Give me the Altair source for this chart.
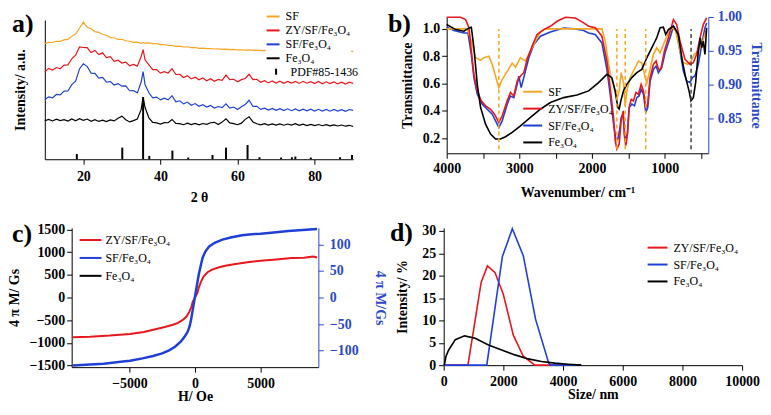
import altair as alt
import pandas as pd

FONT = "Liberation Serif"
ORANGE = "#f5a623"
RED = "#e8161d"
BLUE = "#1f3fd6"
BLACK = "#000000"
AXBLUE = "#2a48c8"

SER4 = ["SF", "ZY/SF/Fe₃O₄", "SF/Fe₃O₄", "Fe₃O₄"]
COL4 = [ORANGE, RED, BLUE, BLACK]
SER3 = ["ZY/SF/Fe₃O₄", "SF/Fe₃O₄", "Fe₃O₄"]
COL3 = [RED, BLUE, BLACK]

# ---------------- panel a : XRD ----------------
TWO_THETA = list(range(10, 36)) + [35.5] + list(range(36, 91))
XRD_SF = [116.5, 117.8, 117.6, 118.9, 118.7, 120.2, 120.8, 123.8, 126.2, 132.0,
          138.2, 133.0, 131.4, 128.6, 127.9, 125.7, 124.9, 122.6, 122.4, 120.7,
          120.9, 119.4, 118.9, 117.7, 117.9, 116.8,
          117.6,
          116.9, 117.3, 116.5, 116.6, 115.5, 115.6, 114.6, 114.8, 113.8, 113.9,
          113.1, 113.3, 112.5, 112.6, 111.8, 112.0, 111.4, 111.6, 111.1, 111.2,
          110.7, 110.9, 110.4, 110.6, 110.2, 110.3, 110.0, 110.1, 109.7, 109.9,
          109.5, 109.7, 109.3, 109.5, 109.2, 109.4, 109.1, 109.3, 109.0, 109.2,
          108.9, 109.1, 108.8, 109.0, 108.8, 108.9, 108.7, 108.9, 108.6, 108.8,
          108.6, 108.8, 108.5, 108.7, 108.7]
XRD_ZY = [88.0, 91.5, 89.8, 92.4, 91.2, 94.8, 95.1, 101.2, 104.8, 113.2,
          112.6, 112.4, 107.5, 109.6, 105.4, 107.2, 102.5, 103.4, 98.6, 99.8,
          96.9, 97.8, 94.2, 95.6, 93.8, 103.5,
          110.5,
          100.2, 95.1, 90.2, 90.4, 86.8, 88.3, 86.9, 91.2, 85.4, 85.6,
          82.3, 84.1, 81.0, 82.6, 80.0, 81.8, 79.1, 81.2, 78.6, 80.4,
          79.6, 84.8, 80.2, 80.6, 78.1, 80.2, 81.4, 85.6, 80.3, 80.5,
          77.6, 79.2, 76.9, 78.8, 76.8, 78.6, 76.5, 78.4, 76.7, 78.3,
          76.4, 78.5, 76.6, 78.2, 76.3, 78.4, 76.1, 78.0, 76.2, 77.8,
          75.9, 77.7, 75.8, 77.6, 76.5]
XRD_SFF = [60.2, 62.9, 61.8, 65.3, 64.9, 68.6, 68.8, 75.2, 78.6, 91.0,
           96.2, 93.4, 86.8, 86.5, 81.7, 82.4, 77.8, 78.3, 74.8, 76.2,
           73.6, 73.9, 69.0, 69.2, 66.9, 77.8,
           88.4,
           75.2, 67.0, 61.9, 62.6, 59.8, 61.6, 59.9, 64.1, 57.8, 58.9,
           55.8, 57.6, 54.4, 56.1, 53.4, 55.0, 52.6, 54.2, 51.6, 53.1,
           52.0, 55.8, 51.6, 52.6, 50.1, 52.8, 55.2, 59.4, 53.2, 53.4,
           50.2, 51.5, 49.6, 51.2, 49.3, 50.9, 49.0, 50.8, 48.9, 50.6,
           48.7, 50.5, 48.8, 50.4, 48.6, 50.3, 48.5, 50.2, 48.4, 50.1,
           48.5, 50.0, 48.3, 50.1, 49.2]
XRD_FE = [38.8, 40.2, 38.6, 40.4, 38.9, 39.8, 38.4, 40.6, 38.7, 40.8,
          39.2, 40.5, 38.3, 39.9, 38.1, 39.4, 37.9, 39.6, 38.6, 41.2,
          43.4, 39.8, 37.6, 38.9, 40.5, 50.2,
          62.7,
          52.4, 41.6, 37.2, 36.6, 35.4, 36.9, 36.8, 40.1, 36.2, 35.9,
          34.8, 36.3, 34.9, 36.1, 34.7, 36.0, 35.1, 36.8, 37.2, 35.0,
          37.4, 40.8, 36.6, 35.9, 34.8, 36.4, 40.2, 42.8, 37.6, 35.8,
          34.6, 35.9, 34.5, 35.7, 34.4, 35.6, 34.3, 35.5, 34.4, 35.8,
          34.2, 35.4, 34.0, 35.2, 33.9, 35.0, 33.8, 34.9, 33.6, 34.7,
          33.5, 34.5, 33.3, 34.2, 33.0]
PDF_POS = [18.3, 30.1, 35.5, 37.1, 43.1, 47.2, 53.5, 57.0, 62.6, 65.7, 71.3, 74.1, 75.0, 79.0, 86.6, 89.7]
PDF_INT = [5.3, 11.7, 62.7, 3.3, 8.7, 1.7, 4.3, 11.7, 14.3, 2.0, 1.7, 2.0, 2.7, 1.7, 2.0, 4.3]
PDF_NAME = "PDF#85-1436"

# ---------------- panel b : FTIR ----------------
WN_SF = [4000, 3716, 3661, 3602, 3533, 3488, 3419, 3373, 3282, 3236, 3167, 3099, 3053, 2985, 2916, 2847, 2778,
         2710, 2641, 2047, 1864, 1818, 1750, 1704, 1658, 1626, 1599, 1567, 1544, 1521, 1475, 1407, 1361, 1315,
         1269, 1246, 1201, 1155, 1109, 1063, 1018, 949, 894, 848, 789, 743, 684, 638, 592, 537, 491, 446, 423]
T_SF = [1.0, 1.0, 0.91, 0.79, 0.77, 0.79, 0.80, 0.74, 0.57, 0.63, 0.69, 0.75, 0.72, 0.79, 0.765, 0.84, 0.91,
        0.98, 1.0, 1.0, 1.0, 0.91, 0.668, 0.583, 0.486, 0.547, 0.68, 0.607, 0.438, 0.547, 0.644, 0.716, 0.765, 0.753,
        0.644, 0.607, 0.704, 0.814, 0.862, 0.826, 0.886, 0.971, 1.008, 0.983, 0.838, 0.753, 0.741, 0.765, 0.814,
        0.838, 0.886, 0.959, 0.995]
WN_ZY = [4000, 3808, 3739, 3693, 3661, 3625, 3579, 3524, 3465, 3396, 3341, 3282, 3236, 3167, 3122, 3076, 3030,
         2984, 2939, 2893, 2824, 2756, 2664, 2573, 2481, 2367, 2229, 2115, 2047, 1956, 1864, 1795, 1750, 1704,
         1681, 1658, 1626, 1599, 1571, 1553, 1535, 1512, 1489, 1461, 1429, 1397, 1361, 1324, 1292, 1260, 1233,
         1201, 1155, 1118, 1086, 1054, 1004, 949, 880, 835, 789, 720, 652, 606, 560, 514, 469, 423]
T_ZY = [1.085, 1.085, 1.068, 1.007, 0.838, 0.668, 0.547, 0.474, 0.438, 0.413, 0.377, 0.316, 0.365, 0.474, 0.535,
        0.510, 0.619, 0.656, 0.68, 0.777, 0.874, 0.959, 0.995, 1.019, 1.056, 1.085, 1.080, 1.044, 1.02, 1.008,
        0.947, 0.765, 0.571, 0.353, 0.183, 0.123, 0.159, 0.329, 0.401, 0.208, 0.147, 0.232, 0.426, 0.486, 0.474,
        0.535, 0.523, 0.595, 0.547, 0.426, 0.450, 0.644, 0.741, 0.765, 0.704, 0.704, 0.838, 0.935, 1.068, 1.032,
        0.91, 0.777, 0.741, 0.753, 0.814, 0.935, 1.032, 1.08]
WN_SFF = [4000, 3899, 3762, 3707, 3661, 3625, 3579, 3510, 3442, 3373, 3327, 3282, 3236, 3167, 3122, 3076, 3030,
          3007, 2975, 2939, 2870, 2801, 2710, 2573, 2390, 2252, 2115, 2047, 1956, 1864, 1795, 1750, 1704, 1672,
          1645, 1622, 1599, 1571, 1553, 1535, 1512, 1489, 1452, 1416, 1384, 1352, 1324, 1292, 1260, 1233, 1201,
          1155, 1118, 1086, 1041, 995, 926, 880, 835, 789, 743, 697, 652, 619, 583, 537, 491, 446, 423]
T_SFF = [0.9847, 0.9799, 0.9764, 0.9764, 0.9446, 0.9101, 0.8854, 0.8708, 0.8633, 0.8560, 0.8460, 0.8363, 0.8460,
         0.8708, 0.8829, 0.8805, 0.9002, 0.9125, 0.8953, 0.9101, 0.9395, 0.9592, 0.9715, 0.9778, 0.9837, 0.9827,
         0.9799, 0.9764, 0.9740, 0.9616, 0.9225, 0.8856, 0.8414, 0.8190, 0.8190, 0.8314, 0.8511, 0.8560, 0.8265,
         0.8142, 0.8290, 0.8659, 0.8708, 0.8683, 0.8805, 0.8829, 0.8929, 0.8856, 0.8584, 0.8659, 0.9052, 0.9223,
         0.9273, 0.9174, 0.9247, 0.9470, 0.9691, 0.9864, 0.9788, 0.9494, 0.9198, 0.9052, 0.9026, 0.9101, 0.9125,
         0.9298, 0.9592, 0.9839, 0.9912]
WN_FE = [4000, 3876, 3762, 3693, 3661, 3625, 3579, 3533, 3465, 3396, 3327, 3259, 3190, 3099, 2984, 2847, 2710,
         2573, 2390, 2207, 2047, 1910, 1795, 1727, 1681, 1645, 1626, 1603, 1567, 1521, 1452, 1384, 1315, 1246,
         1178, 1109, 1063, 1018, 986, 949, 880, 812, 757, 711, 665, 638, 606, 574, 537, 510, 491, 469, 446, 423]
T_FE = [1.032, 0.995, 0.983, 1.007, 1.012, 0.862, 0.595, 0.425, 0.304, 0.231, 0.195, 0.195, 0.212, 0.244, 0.292,
        0.353, 0.413, 0.462, 0.498, 0.517, 0.547, 0.607, 0.668, 0.644, 0.547, 0.426, 0.414, 0.474, 0.547, 0.595,
        0.644, 0.68, 0.704, 0.789, 0.862, 0.935, 1.008, 1.012, 0.959, 0.995, 1.02, 0.959, 0.765, 0.644, 0.547,
        0.474, 0.498, 0.607, 0.838, 0.935, 0.862, 0.911, 0.814, 1.008]
PEAKS_ORANGE = [3282, 1658, 1543, 1261]
PEAKS_BLACK = [637]
PEAK_LINE_SPAN = [0.12, 1.0]

# ---------------- panel c : VSM ----------------
H_ZY = [-9300, -8000, -6500, -4950, -3900, -2940, -2300, -1683, -1300, -930, -650, -427, -280, -176, 0, 176,
        280, 427, 650, 955, 1300, 1834, 2400, 3090, 4000, 5000, 6200, 7362, 8300, 9000, 9300]
M_ZY = [-877, -865, -840, -804, -760, -696, -650, -601, -560, -493, -420, -312, -210, -94, 0, 94,
        210, 330, 460, 558, 615, 667, 705, 739, 780, 812, 840, 870, 878, 905, 884]
H_SFF = [-9300, -8000, -6960, -5500, -4950, -4000, -3191, -2500, -1935, -1500, -1055, -800, -553, -400, -302,
         -150, 0, 150, 302, 400, 578, 800, 1080, 1500, 2085, 2800, 3593, 4300, 5000, 6000, 7111, 8200, 9300]
M_SFF = [-128, -126, -124.5, -120.5, -119, -114.5, -110, -105, -99, -92, -82, -74, -64, -53, -42,
         -20, 2, 24, 45, 56, 75, 87, 96, 103, 109, 113.5, 117, 119, 120, 122.5, 125, 127, 129]

# ---------------- panel d : DLS ----------------
SIZE_ZY = [0, 811, 1000, 1255, 1467, 1722, 2000, 2333, 2667, 3056, 4600]
INT_ZY = [0, 0, 7.8, 18.5, 22.2, 20.7, 15.8, 6.7, 2.0, 0, 0]
SIZE_SFF = [0, 1444, 1967, 2300, 2667, 3078, 3522, 3589, 4600]
INT_SFF = [0, 0, 24.3, 30.5, 24.5, 10.3, 0.4, 0, 0]
SIZE_FE = [22, 78, 167, 389, 700, 1056, 1500, 1944, 2389, 2833, 3278, 3722, 4167, 4611]
INT_FE = [0, 2.0, 3.4, 5.7, 6.55, 6.0, 4.5, 3.4, 2.3, 1.4, 0.8, 0.45, 0.2, 0]


def panel_label(t, dx, dy):
    return alt.Chart(pd.DataFrame({"t": [t]})).mark_text(
        align="left", baseline="top", font=FONT, fontSize=26, fontWeight="bold", color="black"
    ).encode(text="t:N", x=alt.value(dx), y=alt.value(dy))


def line_legend(lx, ly, size, row_pad, offset, fill=None):
    kw = dict(orient="none", legendX=lx, legendY=ly, title=None, symbolType="stroke",
              symbolSize=size, symbolStrokeWidth=2, labelFont=FONT, labelFontSize=12,
              labelFontWeight="normal", labelColor="black", labelOffset=offset,
              rowPadding=row_pad, padding=0, labelLimit=300)
    if fill:
        kw["fillColor"] = fill
    return alt.Legend(**kw)


def long_df(xs, ys, names, xcol, ycol):
    rows = []
    for x_list, y_list, n in zip(xs, ys, names):
        for x, y in zip(x_list, y_list):
            rows.append({xcol: x, ycol: y, "sample": n})
    return pd.DataFrame(rows)


# ---- a ----  (group origin level with panel b's plot top; a's own plot starts 3px lower)
df_a = long_df([TWO_THETA] * 4, [XRD_SF, XRD_ZY, XRD_SFF, XRD_FE], SER4, "theta", "intensity")
df_pdf = pd.DataFrame({"theta": PDF_POS, "base": [0] * len(PDF_POS), "intensity": PDF_INT,
                       "ref": [PDF_NAME] * len(PDF_POS)})
xa_scale = alt.Scale(domain=[10, 90], nice=False, zero=False)
ya_scale = alt.Scale(domain=[0, 140.3], nice=False, range=[143, 3])
xa_axis = alt.Axis(values=[20, 40, 60, 80], title="2 θ", labelPadding=5, titlePadding=7)
ya_axis = alt.Axis(labels=False, ticks=False, title="Intensity/ a.u.", titlePadding=17)
lines_a = alt.Chart(df_a).mark_line(strokeWidth=1.2).encode(
    x=alt.X("theta:Q", scale=xa_scale, axis=xa_axis),
    y=alt.Y("intensity:Q", scale=ya_scale, axis=ya_axis),
    color=alt.Color("sample:N", scale=alt.Scale(domain=SER4, range=COL4),
                    legend=line_legend(222, -8, 169, -4.4, 5, fill="white")),
)
sticks_a = alt.Chart(df_pdf).mark_rule(strokeWidth=2, color="black").encode(
    x=alt.X("theta:Q", scale=xa_scale, axis=xa_axis),
    y=alt.Y("base:Q", scale=ya_scale, axis=ya_axis),
    y2="intensity:Q",
    opacity=alt.Opacity("ref:N", scale=alt.Scale(domain=[PDF_NAME], range=[1]),
                        legend=alt.Legend(orient="none", legendX=226.5, legendY=49, title=None,
                                          symbolType="M0,-1L0,1", symbolSize=36,
                                          symbolStrokeColor="black", symbolStrokeWidth=2,
                                          labelFont=FONT, labelFontSize=12, labelFontWeight="normal",
                                          labelColor="black", labelOffset=8.5, padding=0)),
)
chart_a = alt.layer(lines_a, sticks_a, panel_label("a)", -33, -6)).properties(width=310, height=143)

# ---- b ----  (group origin shared with panel d; b's plot begins 3px further right)
df_b_left = long_df([WN_SF, WN_ZY, WN_FE], [T_SF, T_ZY, T_FE], ["SF", "ZY/SF/Fe₃O₄", "Fe₃O₄"], "wn", "T")
df_b_right = long_df([WN_SFF], [T_SFF], ["SF/Fe₃O₄"], "wn", "T")
xb_scale = alt.Scale(domain=[400, 4000], reverse=True, nice=False, zero=False, range=[3, 266])
xb_axis = alt.Axis(values=list(range(500, 4001, 500)), format="d",
                   labelExpr="datum.value % 1000 == 0 ? datum.label : ''",
                   title="Wavenumber/ cm⁻¹", labelPadding=3, titlePadding=10)
leg_b = line_legend(79, 64.6, 361, -10.5, 5)
color_b = alt.Color("sample:N", scale=alt.Scale(domain=SER4, range=COL4), legend=leg_b)
yb_left_scale = alt.Scale(domain=[0.091, 1.087], nice=False, zero=False)
yb_left_axis = alt.Axis(orient="left", offset=-3, values=[0.2, 0.4, 0.6, 0.8, 1.0], format=".1f",
                        title="Transmittance", labelPadding=2, titlePadding=8)
b_lines = alt.Chart(df_b_left).mark_line(strokeWidth=1.6).encode(
    x=alt.X("wn:Q", scale=xb_scale, axis=xb_axis),
    y=alt.Y("T:Q", scale=yb_left_scale, axis=yb_left_axis),
    color=color_b,
)
df_peak_o = pd.DataFrame({"wn": PEAKS_ORANGE, "lo": [PEAK_LINE_SPAN[0]] * len(PEAKS_ORANGE),
                          "hi": [PEAK_LINE_SPAN[1]] * len(PEAKS_ORANGE)})
df_peak_k = pd.DataFrame({"wn": PEAKS_BLACK, "lo": [PEAK_LINE_SPAN[0]] * len(PEAKS_BLACK),
                          "hi": [PEAK_LINE_SPAN[1]] * len(PEAKS_BLACK)})
b_dash_o = alt.Chart(df_peak_o).mark_rule(strokeDash=[4, 3], strokeWidth=1.5, color=ORANGE).encode(
    x=alt.X("wn:Q", scale=xb_scale, axis=xb_axis),
    y=alt.Y("lo:Q", scale=yb_left_scale, axis=yb_left_axis), y2="hi:Q")
b_dash_k = alt.Chart(df_peak_k).mark_rule(strokeDash=[4, 3], strokeWidth=1.5, color="#444444").encode(
    x=alt.X("wn:Q", scale=xb_scale, axis=xb_axis),
    y=alt.Y("lo:Q", scale=yb_left_scale, axis=yb_left_axis), y2="hi:Q")
b_left = alt.layer(b_lines, b_dash_o, b_dash_k, panel_label("b)", -56, -6))
b_blue = alt.Chart(df_b_right).mark_line(strokeWidth=1.6).encode(
    x=alt.X("wn:Q", scale=xb_scale, axis=xb_axis),
    y=alt.Y("T:Q", scale=alt.Scale(domain=[0.798, 1.0], nice=False, zero=False),
            axis=alt.Axis(orient="right", values=[0.85, 0.9, 0.95, 1.0], format=".2f",
                          title="Transmittance", titleAngle=90, labelColor=AXBLUE, titleColor=AXBLUE,
                          domainColor=AXBLUE, tickColor=AXBLUE, labelPadding=4, titlePadding=7)),
    color=color_b,
)
chart_b = alt.layer(b_blue, b_left).resolve_scale(y="independent").properties(width=266, height=137)

# ---- c ----  (group origin shared with panel a; c's plot begins 27px further right)
df_c_red = long_df([H_ZY], [M_ZY], ["ZY/SF/Fe₃O₄"], "H", "M")
df_c_blue = long_df([H_SFF], [M_SFF], ["SF/Fe₃O₄"], "H", "M")
xc_scale = alt.Scale(domain=[-9400, 9400], nice=False, zero=False, range=[27, 275])
xc_axis = alt.Axis(values=[-5000, 0, 5000], format="d", title="H/ Oe", labelPadding=4, titlePadding=0)
leg_c = line_legend(34, 0.2, 484, -13.5, 3)
color_c = alt.Color("sample:N", scale=alt.Scale(domain=SER3, range=COL3), legend=leg_c)
c_red = alt.Chart(df_c_red).mark_line(strokeWidth=2).encode(
    x=alt.X("H:Q", scale=xc_scale, axis=xc_axis),
    y=alt.Y("M:Q", scale=alt.Scale(domain=[-1536, 1536], nice=False),
            axis=alt.Axis(orient="left", offset=-27, values=[-1500, -1000, -500, 0, 500, 1000, 1500],
                          format="d", title="4 π M/ Gs", labelPadding=2, titlePadding=7)),
    color=color_c,
)
c_left = alt.layer(c_red, panel_label("c)", -33, -7))
c_blue = alt.Chart(df_c_blue).mark_line(strokeWidth=2.5).encode(
    x=alt.X("H:Q", scale=xc_scale, axis=xc_axis),
    y=alt.Y("M:Q", scale=alt.Scale(domain=[-131, 131], nice=False),
            axis=alt.Axis(orient="right", values=[-100, -50, 0, 50, 100], format="d",
                          title="4 π M/Gs", titleAngle=90, labelColor=AXBLUE, titleColor=AXBLUE,
                          domainColor=AXBLUE, tickColor=AXBLUE, labelPadding=6, titlePadding=14)),
    color=color_c,
)
chart_c = alt.layer(c_left, c_blue).resolve_scale(y="independent").properties(width=275, height=140)

# ---- d ----
df_d = long_df([SIZE_ZY, SIZE_SFF, SIZE_FE], [INT_ZY, INT_SFF, INT_FE], SER3, "size", "intensity")
d_lines = alt.Chart(df_d).mark_line(strokeWidth=1.6).encode(
    x=alt.X("size:Q", scale=alt.Scale(domain=[0, 10000], nice=False),
            axis=alt.Axis(values=[0, 2000, 4000, 6000, 8000, 10000], format="d", title="Size/ nm",
                          labelPadding=4, titlePadding=0)),
    y=alt.Y("intensity:Q", scale=alt.Scale(domain=[0, 30.7], nice=False),
            axis=alt.Axis(values=[0, 5, 10, 15, 20, 25, 30], title="Intensity/ %", labelPadding=3,
                          titlePadding=12)),
    color=alt.Color("sample:N", scale=alt.Scale(domain=SER3, range=COL3),
                    legend=line_legend(204, 8.85, 400, -13.5, 5)),
)
chart_d = alt.layer(d_lines, panel_label("d)", -54, -8)).properties(width=300, height=138)

chart = alt.concat(
    chart_a, chart_b, chart_c, chart_d, columns=2, align="each",
    spacing={"row": 16, "column": 2},
).resolve_scale(color="independent").properties(padding=0).configure_view(stroke=None).configure_axis(
    labelFont=FONT, labelFontWeight="bold", labelFontSize=14, labelColor="black",
    titleFont=FONT, titleFontWeight="bold", titleFontSize=14, titleColor="black",
    domainColor="black", tickColor="black", grid=False, tickSize=5,
    labelFlush=False, labelOverlap=False,
)
chart.save("out.html", embed_options={"renderer": "svg", "actions": False})
